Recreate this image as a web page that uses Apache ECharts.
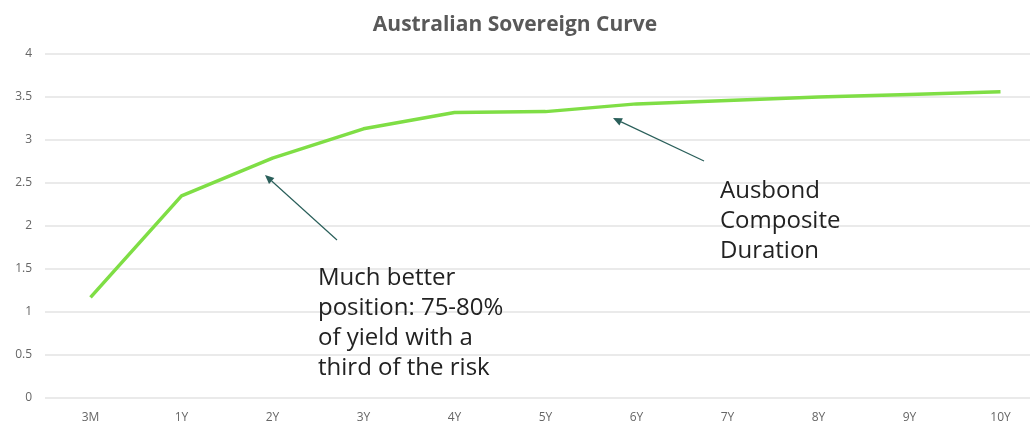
<!DOCTYPE html>
<html><head><meta charset="utf-8">
<script src="https://cdn.jsdelivr.net/npm/echarts@6/dist/echarts.min.js"></script>
<style>html,body{margin:0;padding:0;background:#fff}#c{width:1030px;height:423px}</style>
</head><body><div id="c"></div>
<script>
const categories = ['3M','1Y','2Y','3Y','4Y','5Y','6Y','7Y','8Y','9Y','10Y'];
const yields = [1.17, 2.35, 2.79, 3.13, 3.32, 3.33, 3.42, 3.46, 3.50, 3.53, 3.56];
const yTicks = [0, 0.5, 1, 1.5, 2, 2.5, 3, 3.5, 4];
const note1 = ['Much better', 'position: 75-80%', 'of yield with a', 'third of the risk'];
const note2 = ['Ausbond', 'Composite', 'Duration'];

const FONT = '"Open Sans", "Noto Sans", sans-serif';
const chart = echarts.init(document.getElementById('c'));

function arrow(x1, y1, x2, y2, color) {
  const ang = Math.atan2(y2 - y1, x2 - x1);
  const L = 9, W = 4;
  const bx = x2 - L * Math.cos(ang), by = y2 - L * Math.sin(ang);
  const px = -Math.sin(ang) * W, py = Math.cos(ang) * W;
  return [
    { type: 'line', shape: { x1: x1, y1: y1, x2: bx, y2: by }, style: { stroke: color, lineWidth: 1.2 }, z: 10 },
    { type: 'polygon', shape: { points: [[x2, y2], [bx + px, by + py], [bx - px, by - py]] }, style: { fill: color }, z: 10 }
  ];
}

const arrowColor = '#2a5f5a';
chart.setOption({
  animation: false,
  title: {
    text: 'Australian Sovereign Curve', left: 'center', top: 10,
    textStyle: { fontFamily: FONT, fontSize: 21, fontWeight: 'bold', color: '#595959' }
  },
  grid: { left: 45, right: -16, top: 54, bottom: 25, containLabel: false, outerBoundsMode: 'none' },
  xAxis: {
    type: 'category', data: categories, boundaryGap: true,
    axisLine: { show: false }, axisTick: { show: false },
    axisLabel: { fontFamily: FONT, fontSize: 12, color: '#666', margin: 14 }
  },
  yAxis: {
    type: 'value', min: 0, max: 4, interval: 0.5,
    axisLine: { show: false }, axisTick: { show: false },
    axisLabel: { fontFamily: FONT, fontSize: 12, color: '#666', margin: 13,
      formatter: v => yTicks.includes(v) ? String(v) : '' },
    splitLine: { lineStyle: { color: '#e3e3e3', width: 1.5 } }
  },
  series: [{
    type: 'line', data: yields, showSymbol: false, symbol: 'none',
    lineStyle: { color: '#7fde45', width: 3.5 }
  }],
  graphic: [
    ...arrow(337, 240, 265, 175, arrowColor),
    ...arrow(704, 161, 613, 118, arrowColor),
    { type: 'text', left: 318, top: 263, z: 10,
      style: { text: note1.join('\n'), font: '24px ' + FONT, fill: '#222', lineHeight: 30 } },
    { type: 'text', left: 720, top: 176, z: 10,
      style: { text: note2.join('\n'), font: '24px ' + FONT, fill: '#222', lineHeight: 30 } }
  ]
});
</script></body></html>
